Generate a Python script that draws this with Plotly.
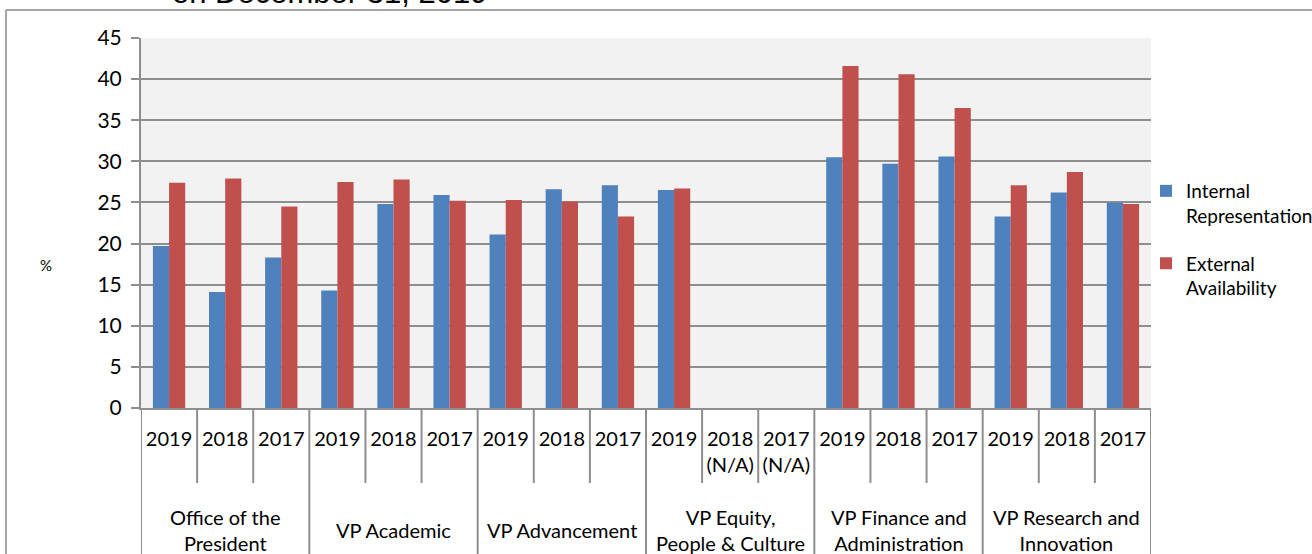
import plotly.graph_objects as go

groups = ["Office of the<br>President", "VP Academic", "VP Advancement",
          "VP Equity,<br>People & Culture", "VP Finance and<br>Administration",
          "VP Research and<br>Innovation"]
year_labels = ["2019", "2018", "2017", "2019", "2018", "2017", "2019", "2018", "2017",
               "2019", "2018<br>(N/A)", "2017<br>(N/A)", "2019", "2018", "2017",
               "2019", "2018", "2017"]
internal = [19.7, 14.1, 18.3, 14.3, 24.8, 25.9, 21.1, 26.6, 27.1,
            26.5, None, None, 30.5, 29.7, 30.6, 23.3, 26.2, 25.0]
external = [27.4, 27.9, 24.5, 27.5, 27.8, 25.2, 25.3, 25.1, 23.3,
            26.7, None, None, 41.6, 40.6, 36.5, 27.1, 28.7, 24.8]
y_ticks = [0, 5, 10, 15, 20, 25, 30, 35, 40, 45]
series_names = ["Internal<br>Representation", "External<br>Availability"]
title_text = "on December 31, 2019"

BLUE = "#4f81bd"
RED = "#c0504d"
GRID = "#8e8e8e"
FONT = "Lato"

xs = list(range(len(year_labels)))
fig = go.Figure()
fig.add_trace(go.Bar(x=xs, y=internal, name=series_names[0], marker_color=BLUE,
                     marker_line_width=0, legendgroup="a"))
fig.add_trace(go.Bar(x=xs, y=external, name=series_names[1], marker_color=RED,
                     marker_line_width=0, legendgroup="b"))

W, H = 1312, 554
ml, mr, mt, mb = 141, 161, 38, 146
ph = H - mt - mb

def py(pix):
    # pixel y -> paper y
    return (H - mb - pix) / ph

def px(pix):
    return (pix - ml) / (W - ml - mr)

shapes = []
n = len(year_labels)
for k in range(n + 1):
    long_div = (k % 3 == 0)
    shapes.append(dict(type="line", xref="x", yref="paper", x0=k - 0.5, x1=k - 0.5,
                       y0=0, y1=py(600) if long_div else py(483),
                       line=dict(color=GRID, width=2)))
# outer chart border
shapes.append(dict(type="line", xref="paper", yref="paper", x0=px(6), x1=px(6),
                   y0=py(600), y1=py(10), line=dict(color="#8a8a8a", width=1.5)))
shapes.append(dict(type="line", xref="paper", yref="paper", x0=px(6), x1=px(1400),
                   y0=py(10), y1=py(10), line=dict(color="#8a8a8a", width=1.5)))

annotations = []
for g, name in enumerate(groups):
    annotations.append(dict(x=3 * g + 1, y=py(530), xref="x", yref="paper",
                            text=name, showarrow=False, xanchor="center", yanchor="middle",
                            font=dict(family=FONT, size=20, color="#000")))
annotations.append(dict(x=px(46), y=py(265), xref="paper", yref="paper", text="%",
                        showarrow=False, xanchor="center", yanchor="middle",
                        font=dict(family=FONT, size=15, color="#000")))
annotations.append(dict(x=px(329), y=py(-7), xref="paper", yref="paper", text=title_text,
                        showarrow=False, xanchor="center", yanchor="middle",
                        font=dict(family="Liberation Sans", size=31, color="#000")))

fig.update_layout(
    width=W, height=H,
    margin=dict(l=ml, r=mr, t=mt, b=mb, pad=0, autoexpand=False),
    paper_bgcolor="white", plot_bgcolor="#f2f2f2",
    barmode="group", bargap=0.424, bargroupgap=0,
    font=dict(family=FONT, size=20, color="#000"),
    showlegend=True,
    legend=dict(xref="container", yref="container", x=1146 / W, xanchor="left",
                y=(H - 172) / H, yanchor="top",
                valign="top", font=dict(family=FONT, size=19, color="#000"),
                bgcolor="rgba(0,0,0,0)", itemclick=False, traceorder="grouped",
                tracegroupgap=20),
    xaxis=dict(range=[-0.5, n - 0.5], tickmode="array", tickvals=xs, ticktext=year_labels,
               showgrid=False, zeroline=False, showline=True, linecolor=GRID, linewidth=2,
               ticks="", tickfont=dict(family=FONT, size=20, color="#000"),
               ticklabelstandoff=12, fixedrange=True, automargin=False),
    yaxis=dict(range=[0, 45], tickmode="array", tickvals=y_ticks, showgrid=True,
               gridcolor=GRID, gridwidth=2, zeroline=False, showline=True, linecolor=GRID,
               linewidth=2, ticks="outside", ticklen=8, tickcolor=GRID, tickwidth=2,
               tickfont=dict(family=FONT, size=21, color="#000"), ticklabelstandoff=5,
               fixedrange=True, automargin=False),
    shapes=shapes, annotations=annotations,
)

fig.write_html("out.html", config={"displayModeBar": False},
               post_script="document.body.style.margin='0';document.body.style.overflow='hidden';")
